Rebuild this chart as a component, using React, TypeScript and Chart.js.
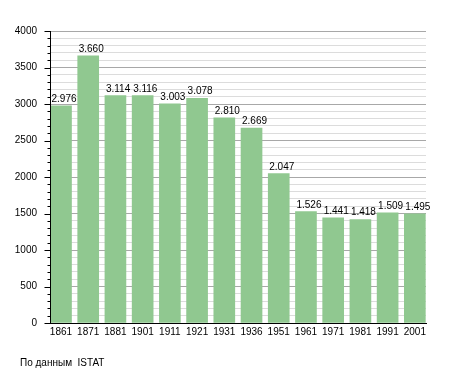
import React, { useEffect, useRef } from "react";
import { Chart, registerables } from "chart.js";

Chart.register(...registerables);

const years = ["1861", "1871", "1881", "1901", "1911", "1921", "1931", "1936", "1951", "1961", "1971", "1981", "1991", "2001"];
const population = [2976, 3660, 3114, 3116, 3003, 3078, 2810, 2669, 2047, 1526, 1441, 1418, 1509, 1495];
const yMax = 4000;
const majorStep = 500;
const minorStep = 100;
const footerText = "По данным  ISTAT";

const FONT_FAMILY = "'Liberation Sans', Arial, sans-serif";

const fmt = (v: number) => String(v).replace(/\B(?=(\d{3})+(?!\d))/g, ".");

const decorPlugin = {
  id: "decor",
  afterDatasetsDraw(chart: any) {
    const ctx = chart.ctx;
    const area = chart.chartArea;
    const y = chart.scales.y;
    ctx.save();
    // data labels
    ctx.fillStyle = "#000";
    ctx.font = `10px ${FONT_FAMILY}`;
    ctx.textAlign = "left";
    ctx.textBaseline = "alphabetic";
    const meta = chart.getDatasetMeta(0);
    meta.data.forEach((bar: any, i: number) => {
      const left = bar.x - bar.width / 2;
      ctx.fillText(fmt(population[i]), left + 1, bar.y - 4);
    });
    // axes
    ctx.strokeStyle = "#000";
    ctx.lineWidth = 1;
    ctx.beginPath();
    const ax = Math.round(area.left) + 0.5;
    const ay = Math.round(area.bottom) + 0.5;
    ctx.moveTo(ax, Math.round(area.top));
    ctx.lineTo(ax, ay);
    ctx.moveTo(ax - 0.5, ay);
    ctx.lineTo(Math.round(area.right) + 1, ay);
    // y tick marks
    for (let v = 0; v <= yMax; v += minorStep) {
      const py = Math.round(y.getPixelForValue(v)) + 0.5;
      const len = v % majorStep === 0 ? 6 : 3;
      ctx.moveTo(ax - len, py);
      ctx.lineTo(ax, py);
    }
    ctx.stroke();
    ctx.restore();
  },
};

export default function App() {
  const ref = useRef<HTMLCanvasElement | null>(null);
  useEffect(() => {
    if (!ref.current) return;
    const chart = new Chart(ref.current, {
      type: "bar",
      data: {
        datasets: [
          {
            data: population.map((v, i) => ({ x: i, y: v })),
            backgroundColor: "#90c890",
            borderWidth: 0,
            barThickness: 21,
          },
        ],
      },
      options: {
        responsive: false,
        animation: false,
        layout: { padding: { top: 31, right: 29, left: 0, bottom: 0 } },
        plugins: { legend: { display: false }, tooltip: { enabled: false } },
        scales: {
          x: {
            type: "linear",
            offset: false,
            min: -0.404,
            max: 13.41,
            afterBuildTicks: (s: any) => {
              s.ticks = years.map((_, i) => ({ value: i }));
            },
            afterFit: (s: any) => {
              s.height = 50;
            },
            ticks: {
              callback: (v: any) => years[v as number] ?? "",
              autoSkip: false,
              maxRotation: 0,
              padding: 3,
              color: "#000",
              font: { family: FONT_FAMILY, size: 10 },
            },
            grid: { display: false, drawTicks: false, offset: false },
            border: { display: false },
          },
          y: {
            min: 0,
            max: yMax,
            afterBuildTicks: (s: any) => {
              const t: any[] = [];
              for (let v = 0; v <= yMax; v += minorStep) t.push({ value: v });
              s.ticks = t;
            },
            afterFit: (s: any) => {
              s.width = 50;
            },
            ticks: {
              callback: (v: any) => ((v as number) % majorStep === 0 ? String(v) : ""),
              autoSkip: false,
              padding: 13,
              color: "#000",
              font: { family: FONT_FAMILY, size: 10 },
            },
            grid: {
              drawTicks: false,
              color: (c: any) => (c.tick && c.tick.value % majorStep === 0 ? "#a8a8a8" : "#dcdcdc"),
              lineWidth: 1,
            },
            border: { display: false },
          },
        },
      },
      plugins: [decorPlugin],
    } as any);
    return () => chart.destroy();
  }, []);

  return (
    <div style={{ position: "absolute", left: 0, top: 0, width: 455, height: 373, background: "#fff" }}>
      <canvas ref={ref} width={455} height={373} style={{ display: "block" }} />
      <div
        style={{
          position: "absolute",
          left: 20,
          top: 357,
          fontFamily: FONT_FAMILY,
          fontSize: 10,
          lineHeight: "12px",
          whiteSpace: "pre",
          color: "#000",
        }}
      >
        {footerText}
      </div>
    </div>
  );
}
